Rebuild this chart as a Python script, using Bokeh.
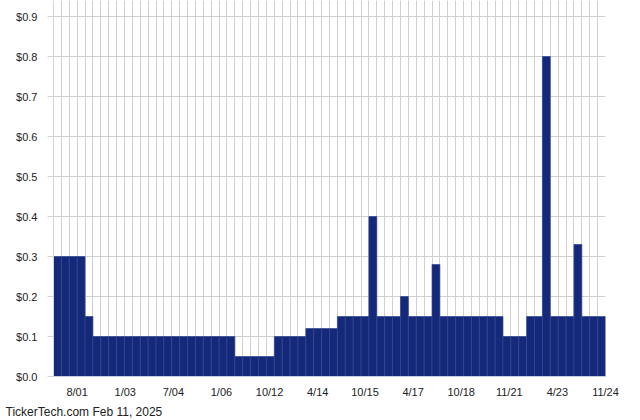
from bokeh.plotting import figure
from bokeh.models import FixedTicker, Range1d, ColumnDataSource, Title
from bokeh.embed import file_html
from bokeh.resources import INLINE

# Dividend amounts per payment (chronological)
dividends = (
    [0.30] * 4 + [0.15] + [0.10] * 18 + [0.05] * 5 + [0.10] * 4 + [0.12] * 4
    + [0.15] * 4 + [0.40] + [0.15] * 3 + [0.20] + [0.15] * 3 + [0.28]
    + [0.15] * 8 + [0.10] * 3 + [0.15] * 2 + [0.80] + [0.15] * 3 + [0.33]
    + [0.15] * 3
)
tick_labels = ["8/01", "1/03", "7/04", "1/06", "10/12", "4/14", "10/15",
               "4/17", "10/18", "11/21", "4/23", "11/24"]
tick_positions = [3.0, 9.1, 15.2, 21.3, 27.4, 33.5, 39.5, 45.6, 51.7, 57.8, 63.9, 70.0]
y_ticks = [0.0, 0.1, 0.2, 0.3, 0.4, 0.5, 0.6, 0.7, 0.8, 0.9]

n = len(dividends)
src = ColumnDataSource(dict(x=[i + 0.5 for i in range(n)], top=dividends))

p = figure(width=640, height=420, output_backend="svg", toolbar_location=None,
           x_range=Range1d(0, n), y_range=Range1d(0, 0.94),
           min_border_left=53, min_border_right=35, min_border_top=0,
           min_border_bottom=44)
p.outline_line_color = None
p.background_fill_color = "white"

p.vbar(x="x", top="top", width=1.0, source=src, fill_color="#15297a",
       line_color="#33468f", line_width=0.7)

# axes
p.xaxis.ticker = FixedTicker(ticks=tick_positions)
p.xaxis.major_label_overrides = {t: l for t, l in zip(tick_positions, tick_labels)}
p.xaxis.major_tick_out = 0
p.xaxis.major_tick_in = 0
p.xaxis.minor_tick_out = 0
p.xaxis.minor_tick_in = 0
p.xaxis.major_label_standoff = 9
p.xaxis.axis_line_color = "#c5cde0"
p.xaxis.major_label_text_font = "Liberation Sans"
p.xaxis.major_label_text_font_size = "11px"
p.xaxis.major_label_text_color = "#222222"

p.yaxis.ticker = FixedTicker(ticks=y_ticks)
p.yaxis.major_label_overrides = {t: "$%.1f" % t for t in y_ticks}
p.yaxis.major_tick_out = 6
p.yaxis.major_tick_in = 0
p.yaxis.minor_tick_out = 0
p.yaxis.minor_tick_in = 0
p.yaxis.major_tick_line_color = "#d4d4d4"
p.yaxis.axis_line_color = "#d4d4d4"
p.yaxis.major_label_standoff = 10
p.yaxis.major_label_text_font = "Liberation Sans"
p.yaxis.major_label_text_font_size = "11px"
p.yaxis.major_label_text_color = "#222222"

# grids
p.xgrid.ticker = FixedTicker(ticks=list(range(n + 1)))
p.xgrid.grid_line_color = "#d0d0d0"
p.xgrid.grid_line_width = 1
p.ygrid.grid_line_color = "#d0d0d0"
p.ygrid.grid_line_width = 1

footer = Title(text="TickerTech.com  Feb 11, 2025", align="left", offset=-48,
               text_font="Liberation Sans", text_font_size="12px",
               text_font_style="normal", text_color="#222222", standoff=4)
p.add_layout(footer, "below")

open("out.html", "w").write(file_html(p, INLINE))
